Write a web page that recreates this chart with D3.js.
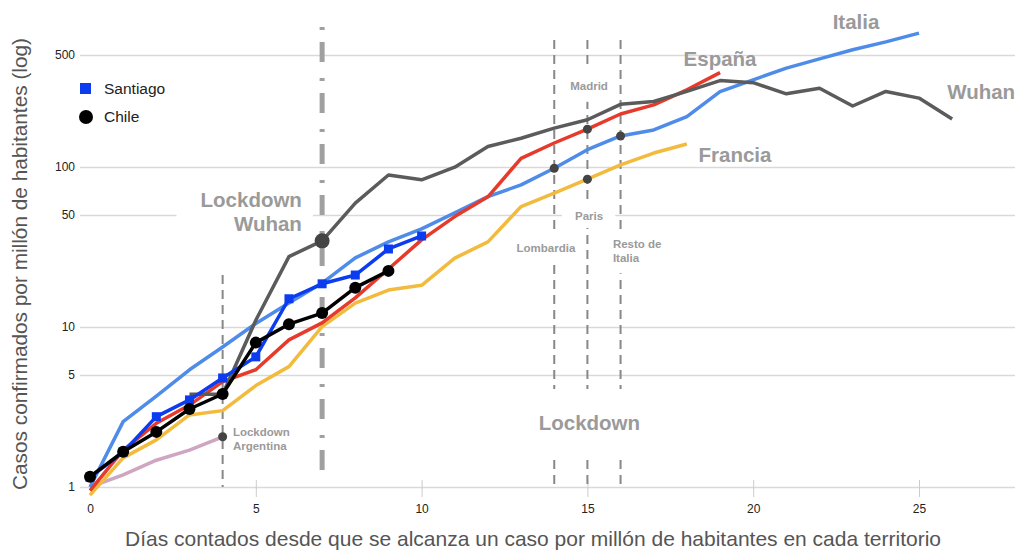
<!DOCTYPE html>
<html lang='es'>
	<head>
		<meta charset='utf-8'>
		<title>Casos por millón de habitantes</title>
		<script type='text/javascript' src='https://cdn.jsdelivr.net/npm/d3@7/dist/d3.min.js'></script>
		<style>
			body { margin: 0; background: #fff; }
			text { font-family: 'Liberation Sans', Arial, sans-serif; }
		</style>
	</head>
	<body>
		<script type='text/javascript'>
		// valores (casos por millon, dia 0 = primer caso por millon)
		var italia = [1.0, 2.56, 3.7, 5.4, 7.5, 10.5, 14.1, 18.8, 27, 34, 41, 51.6, 65.2, 77.2, 98, 128, 156, 170, 206, 295, 350, 414, 473, 539, 604, 685];
		var espana = [0.95, 1.7, 2.5, 3.25, 4.55, 5.4, 8.3, 10.6, 15.2, 23, 35, 48.9, 65, 113, 141, 172, 214, 244, 303, 388];
		var francia = [0.89, 1.52, 1.97, 2.82, 3.0, 4.3, 5.65, 10.05, 14.1, 17.0, 18.2, 26.9, 34, 56.5, 68.5, 83.8, 103, 122, 139];
		var wuhanStart = 3;
		var wuhan = [3.8, 3.8, 11, 27.5, 34.5, 59.3, 89, 83, 99.5, 134, 151, 174.5, 197, 246, 256, 296, 346, 336, 286, 310, 240, 296, 269, 199];
		var argentina = [1.0, 1.19, 1.47, 1.70, 2.06];
		var santiago = [1.15, 1.65, 2.75, 3.5, 4.8, 6.5, 15, 18.6, 21.1, 30.7, 37];
		var chile = [1.16, 1.66, 2.21, 3.07, 3.81, 7.98, 10.4, 12.2, 17.6, 22.4];

		var xTicks = [0, 5, 10, 15, 20, 25];
		var yTicks = [1, 5, 10, 50, 100, 500];
		var lockdownDays = [14, 15, 16];

		var width = 1019, height = 551;
		var svg = d3.select('body').append('svg').attr('width', width).attr('height', height);

		var x = d3.scaleLinear().domain([0, 25]).range([90, 919]);
		var y = d3.scaleLog().domain([1, 500]).range([487, 55]);
		var xEnd = 1015, xStart = 80;

		function pts(vals, start) { return vals.map((v, i) => [start + i, v]); }
		var line = d3.line().x(d => x(d[0])).y(d => y(d[1]));

		var gridLayer = svg.append('g'), vLayer = svg.append('g'), labelLayer = svg.append('g'), lineLayer = svg.append('g'), topLayer = svg.append('g');

		// y grid + labels
		gridLayer.append('g')
			.attr('transform', 'translate(' + xStart + ',0)')
			.call(d3.axisLeft(y).tickValues(yTicks).tickFormat(d3.format('d')).tickSize(-(xEnd - xStart)).tickPadding(5))
			.call(g => g.select('.domain').remove())
			.call(g => g.selectAll('line').attr('stroke', '#d9d9d9').attr('stroke-width', 1.5))
			.call(g => g.selectAll('text').attr('fill', '#222').attr('font-size', 12).attr('font-family', "'Liberation Sans', Arial, sans-serif"));

		// x axis ticks
		gridLayer.append('g')
			.attr('transform', 'translate(0,480)')
			.call(d3.axisBottom(x).tickValues(xTicks).tickSize(17).tickPadding(7))
			.call(g => g.select('.domain').remove())
			.call(g => g.selectAll('line').attr('stroke', '#ccc').attr('stroke-width', 1).attr('opacity', d => d === 0 ? 0 : 1))
			.call(g => g.selectAll('text').attr('fill', '#222').attr('font-size', 12).attr('font-family', "'Liberation Sans', Arial, sans-serif"));

		// axis titles
		svg.append('text')
			.attr('x', 533).attr('y', 546)
			.attr('text-anchor', 'middle').attr('font-size', 21).attr('fill', '#555')
			.text('Días contados desde que se alcanza un caso por millón de habitantes en cada territorio');
		svg.append('text')
			.attr('transform', 'translate(27,264) rotate(-90)')
			.attr('text-anchor', 'middle').attr('font-size', 20.8).attr('fill', '#555')
			.text('Casos confirmados por millón de habitantes (log)');

		// lockdown vertical lines
		vLayer.append('line')
			.attr('x1', x(7)).attr('x2', x(7)).attr('y1', 27).attr('y2', 482)
			.attr('stroke', '#a0a0a0').attr('stroke-width', 5).attr('stroke-dasharray', '3,12,20,16');
		vLayer.append('line')
			.attr('x1', x(4)).attr('x2', x(4)).attr('y1', 275).attr('y2', 487)
			.attr('stroke', '#888').attr('stroke-width', 2).attr('stroke-dasharray', '9,6');
		vLayer.selectAll('.ld').data(lockdownDays).enter().append('line')
			.attr('x1', d => x(d)).attr('x2', d => x(d)).attr('y1', 40).attr('y2', 487)
			.attr('stroke', '#888').attr('stroke-width', 2).attr('stroke-dasharray', '9,6');

		function annotate(lines, day, val, opt) {
			var g = labelLayer.append('g');
			var bg = g.append('rect').attr('fill', 'white');
			var t = g.append('text')
				.attr('x', x(day)).attr('y', y(val))
				.attr('text-anchor', opt.anchor || 'start')
				.attr('font-size', opt.size).attr('font-weight', 'bold').attr('fill', '#9a9a9a');
			lines.forEach((s, i) => t.append('tspan').attr('x', x(day)).attr('dy', i ? opt.gap : 0).text(s));
			if (opt.box) {
				var b = t.node().getBBox();
				bg.attr('x', b.x - opt.box[0]).attr('y', b.y - opt.box[2])
					.attr('width', b.width + opt.box[0] + opt.box[1]).attr('height', b.height + 2 * opt.box[2]);
			}
		}

		annotate(['Lockdown', 'Wuhan'], 6.39, 56.2, {anchor: 'end', size: 20.5, gap: 24, box: [24, 11, 4]});
		annotate(['Lockdown', 'Argentina'], 4.31, 2.08, {size: 11.5, gap: 13.5});
		annotate(['Madrid'], 15.05, 303, {anchor: 'middle', size: 11.5, box: [6, 6, 10]});
		annotate(['Paris'], 15.05, 46.6, {anchor: 'middle', size: 11.5, box: [13, 12, 6]});
		annotate(['Lombardia'], 13.75, 29.4, {anchor: 'middle', size: 11.5, box: [6, 6, 10]});
		annotate(['Resto de', 'Italia'], 15.77, 31, {size: 11.5, gap: 14, box: [6, 6, 9]});
		annotate(['Lockdown'], 15.06, 2.27, {anchor: 'middle', size: 20.5, box: [6, 6, 22]});
		annotate(['Italia'], 23.1, 730, {anchor: 'middle', size: 20.5});
		annotate(['España'], 17.9, 428, {size: 20.5});
		annotate(['Wuhan'], 25.85, 266, {size: 20.5});
		annotate(['Francia'], 18.35, 107, {size: 20.5});

		// series lines
		var series = [
			{data: pts(argentina, 0), color: '#cfa6c2'},
			{data: pts(francia, 0), color: '#f2bb3e'},
			{data: pts(italia, 0), color: '#4f8be8'},
			{data: pts(espana, 0), color: '#e63a2b'},
			{data: pts(wuhan, wuhanStart), color: '#5b5b5b'},
			{data: pts(santiago, 0), color: '#0b3cf0'},
			{data: pts(chile, 0), color: '#000'}
		];
		lineLayer.selectAll('path').data(series).enter().append('path')
			.attr('d', d => line(d.data))
			.attr('fill', 'none').attr('stroke', d => d.color)
			.attr('stroke-width', 3.5).attr('stroke-linejoin', 'round');

		// markers
		lineLayer.selectAll('.sq').data(pts(santiago, 0)).enter().append('rect')
			.attr('x', d => x(d[0]) - 4.5).attr('y', d => y(d[1]) - 4.5)
			.attr('width', 9).attr('height', 9).attr('fill', '#0b3cf0');
		lineLayer.selectAll('.ci').data(pts(chile, 0)).enter().append('circle')
			.attr('cx', d => x(d[0])).attr('cy', d => y(d[1])).attr('r', 6).attr('fill', '#000');

		// lockdown points
		var lockPts = [[4, argentina[4]], [14, italia[14]], [15, espana[15]], [15, francia[15]], [16, italia[16]]];
		topLayer.selectAll('.lp').data(lockPts).enter().append('circle')
			.attr('cx', d => x(d[0])).attr('cy', d => y(d[1])).attr('r', 4.5).attr('fill', '#444');
		topLayer.append('circle')
			.attr('cx', x(7)).attr('cy', y(wuhan[7 - wuhanStart])).attr('r', 7.5).attr('fill', '#444');

		// legend
		var legend = topLayer.append('g');
		legend.append('rect').attr('x', 80).attr('y', 83).attr('width', 11).attr('height', 11).attr('fill', '#0b3cf0');
		legend.append('text').attr('x', 104).attr('y', 94).attr('font-size', 15.5).attr('fill', '#222').text('Santiago');
		legend.append('circle').attr('cx', 86).attr('cy', 117).attr('r', 7).attr('fill', '#000');
		legend.append('text').attr('x', 104).attr('y', 122).attr('font-size', 15.5).attr('fill', '#222').text('Chile');
		</script>
	</body>
</html>
